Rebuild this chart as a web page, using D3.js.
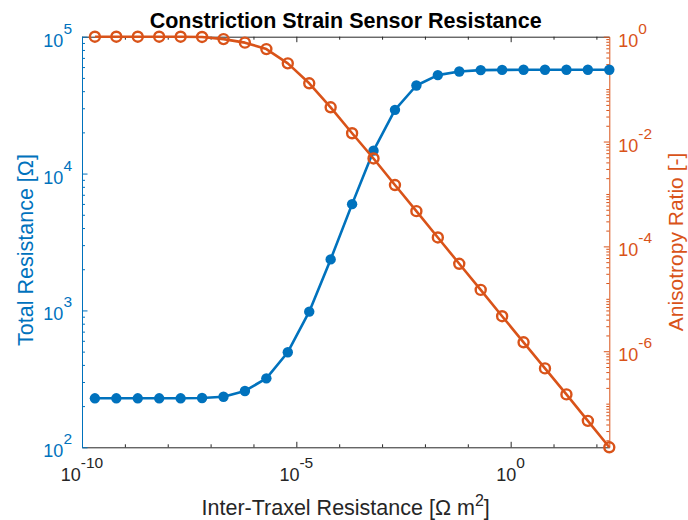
<!DOCTYPE html>
<html>
<head>
<meta charset="utf-8">
<script src="https://cdn.jsdelivr.net/npm/d3@7"></script>
<style>
  body { margin: 0; background: #fff; }
  svg { display: block; }
  text { font-family: "Liberation Sans", Arial, Helvetica, sans-serif; }
</style>
</head>
<body>
<svg id="chart" width="688" height="520"></svg>
<script>
// Inter-traxel resistance sweep [Ohm m^2]
const interTraxelResistance = [
  2e-10, 6.32e-10, 2e-9, 6.32e-9, 2e-8, 6.32e-8, 2e-7, 6.32e-7, 2e-6, 6.32e-6,
  2e-5, 6.32e-5, 2e-4, 6.32e-4, 2e-3, 6.32e-3, 0.02, 0.0632, 0.2, 0.632,
  2, 6.32, 20, 63.2, 200
];
// Total sensor resistance [Ohm] (left axis)
const totalResistance = [
  228, 228, 228, 228, 228, 229, 234, 258, 319, 495,
  980, 2360, 5980, 14700, 29200, 44000, 52400, 55700, 57000, 57200,
  57300, 57300, 57300, 57300, 57300
];
// Anisotropy ratio [-] (right axis)
const anisotropyRatio = [
  1, 1, 1, 1, 1, 0.99, 0.9, 0.77, 0.58, 0.31,
  0.129, 0.045, 0.0144, 0.00475, 0.00148, 4.7e-4, 1.48e-4, 4.66e-5, 1.48e-5, 4.65e-6,
  1.48e-6, 4.7e-7, 1.5e-7, 4.7e-8, 1.47e-8
];

// Labelled tick exponents
const xTickExponents = [-10, -5, 0];
const leftTickExponents = [2, 3, 4, 5];
const rightTickExponents = [0, -2, -4, -6];

const xDomain = [1e-10, 200];
const leftDomain = [1e2, 1e5];
const rightDomain = [1.47e-8, 1];

const dark = "#262626", blue = "#0072BD", orange = "#D95319";
const box = { left: 82, right: 609.3, top: 36.7, bottom: 447.3 };

const svg = d3.select("#chart");

const x = d3.scaleLog().domain(xDomain).range([box.left, box.right]);
const yL = d3.scaleLog().domain(leftDomain).range([box.bottom, box.top]);
const yR = d3.scaleLog().domain(rightDomain).range([box.bottom, box.top]);

// tick value helpers
const inDomain = (v, dom) => v >= dom[0] * 0.9999 && v <= dom[1] * 1.0001;
function decades(lo, hi) { const out = []; for (let e = lo; e <= hi; e++) out.push(Math.pow(10, e)); return out; }
function minors(lo, hi, dom) {
  const out = [];
  for (let e = lo; e <= hi; e++) for (let k = 2; k <= 9; k++) { const v = k * Math.pow(10, e); if (inDomain(v, dom)) out.push(v); }
  return out;
}

function tickAxis(axisFn, scale, values, size, transform, color, showDomain) {
  const g = svg.append("g").attr("transform", transform)
    .call(axisFn(scale).tickValues(values).tickSizeInner(-size).tickSizeOuter(0).tickFormat(""));
  g.select(".domain").attr("stroke", showDomain ? color : "none").attr("stroke-width", 1);
  g.selectAll(".tick line").attr("stroke", color).attr("stroke-width", 1);
  return g;
}

// x axis: bottom and mirrored top
const xMajor = xTickExponents.map(e => Math.pow(10, e));
const xMinor = decades(-10, 2).filter(v => !xMajor.includes(v) && inDomain(v, xDomain));
tickAxis(d3.axisBottom, x, xMinor, 3, `translate(0,${box.bottom})`, dark, false);
tickAxis(d3.axisBottom, x, xMajor, 5.5, `translate(0,${box.bottom})`, dark, true);
tickAxis(d3.axisTop, x, xMinor, 3, `translate(0,${box.top})`, dark, false);
tickAxis(d3.axisTop, x, xMajor, 5.5, `translate(0,${box.top})`, dark, true);

// left axis
const lMajor = leftTickExponents.map(e => Math.pow(10, e));
tickAxis(d3.axisLeft, yL, minors(2, 4, leftDomain), 3, `translate(${box.left},0)`, blue, false);
tickAxis(d3.axisLeft, yL, lMajor, 5.5, `translate(${box.left},0)`, blue, true);

// right axis
const rMajor = rightTickExponents.map(e => Math.pow(10, e));
const rOdd = decades(-8, 0).filter(v => !rMajor.includes(v) && inDomain(v, rightDomain));
tickAxis(d3.axisRight, yR, minors(-8, -1, rightDomain).concat(rOdd), 3, `translate(${box.right},0)`, orange, false);
tickAxis(d3.axisRight, yR, rMajor, 5.5, `translate(${box.right},0)`, orange, true);

// power-of-ten tick labels
function powLabel(px, py, exp, anchor, color) {
  const t = svg.append("text").attr("x", px).attr("y", py)
    .attr("text-anchor", anchor).attr("fill", color).style("font-size", "18px");
  t.append("tspan").text("10");
  t.append("tspan").attr("dy", -13).style("font-size", "15.5px").text(String(exp));
}
xTickExponents.forEach(e => powLabel(x(Math.pow(10, e)), 480.7, e, "middle", dark));
leftTickExponents.forEach(e => powLabel(box.left - 10, yL(Math.pow(10, e)) + 10, e, "end", blue));
rightTickExponents.forEach(e => powLabel(box.right + 9, yR(Math.pow(10, e)) + 10, e, "start", orange));

// title and axis labels
svg.append("text").attr("x", (box.left + box.right) / 2).attr("y", 27.5)
  .attr("text-anchor", "middle").attr("fill", "#000")
  .style("font-size", "21.5px").style("font-weight", "bold")
  .text("Constriction Strain Sensor Resistance");

const xl = svg.append("text").attr("x", (box.left + box.right) / 2).attr("y", 515)
  .attr("text-anchor", "middle").attr("fill", dark).style("font-size", "21.5px");
xl.append("tspan").text("Inter-Traxel Resistance [\u03A9 m");
xl.append("tspan").attr("dy", -9).style("font-size", "16px").text("2");
xl.append("tspan").attr("dy", 9).text("]");

svg.append("text").attr("transform", "translate(25,250) rotate(-90)")
  .attr("text-anchor", "middle").attr("dy", "0.36em").attr("fill", blue)
  .style("font-size", "21.5px").text("Total Resistance [\u03A9]");

svg.append("text").attr("transform", "translate(675,242) rotate(-90)")
  .attr("text-anchor", "middle").attr("dy", "0.36em").attr("fill", orange)
  .style("font-size", "21px").text("Anisotropy Ratio [-]");

// series
const idx = d3.range(interTraxelResistance.length);
const lineL = d3.line().x(i => x(interTraxelResistance[i])).y(i => yL(totalResistance[i]));
const lineR = d3.line().x(i => x(interTraxelResistance[i])).y(i => yR(anisotropyRatio[i]));

svg.append("path").datum(idx).attr("d", lineL)
  .attr("fill", "none").attr("stroke", blue).attr("stroke-width", 2.6).attr("stroke-linejoin", "round");
svg.append("g").selectAll("circle").data(idx).join("circle")
  .attr("cx", i => x(interTraxelResistance[i])).attr("cy", i => yL(totalResistance[i]))
  .attr("r", 5.2).attr("fill", blue);

svg.append("path").datum(idx).attr("d", lineR)
  .attr("fill", "none").attr("stroke", orange).attr("stroke-width", 2.6).attr("stroke-linejoin", "round");
svg.append("g").selectAll("circle").data(idx).join("circle")
  .attr("cx", i => x(interTraxelResistance[i])).attr("cy", i => yR(anisotropyRatio[i]))
  .attr("r", 5).attr("fill", "none").attr("stroke", orange).attr("stroke-width", 2.4);
</script>
</body>
</html>
